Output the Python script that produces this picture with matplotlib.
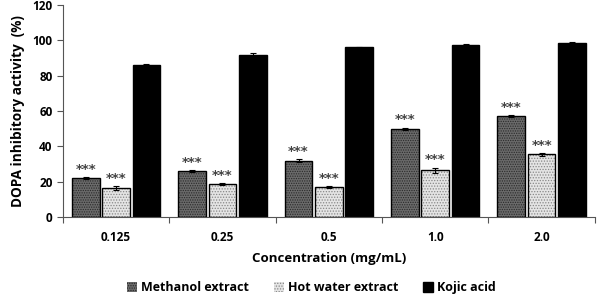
import matplotlib
matplotlib.use("Agg")
import matplotlib.pyplot as plt
import numpy as np

categories = ["0.125", "0.25", "0.5", "1.0", "2.0"]
methanol = [22, 26, 32, 50, 57]
methanol_err = [0.5, 0.4, 0.6, 0.6, 0.5]
hotwater = [16.5, 18.5, 17, 26.5, 35.5]
hotwater_err = [1.0, 0.6, 0.5, 1.5, 0.8]
kojic = [86, 92, 96, 97.5, 98.5]
kojic_err = [0.5, 0.8, 0.3, 0.3, 0.3]
series_names = ["Methanol extract", "Hot water extract", "Kojic acid"]

plt.rcParams['font.family'] = ['Open Sans', 'DejaVu Sans']
plt.rcParams['font.weight'] = 'bold'
plt.rcParams['hatch.linewidth'] = 0.6

fig = plt.figure(figsize=(5.99, 2.95), dpi=100)
ax = fig.add_axes([0.105, 0.264, 0.888, 0.719])

x = np.arange(len(categories))
w = 0.26
off = 0.285
ek = dict(ecolor='black', elinewidth=0.8, capsize=2, capthick=0.8)

b1 = ax.bar(x - off, methanol, w, color='#6a6a6a', edgecolor='#2a2a2a', hatch='.......', linewidth=0, zorder=2)
ax.bar(x - off, methanol, w, fill=False, edgecolor='black', linewidth=1.0, yerr=methanol_err, error_kw=ek, zorder=3)
b2 = ax.bar(x, hotwater, w, color='#e4e4e4', edgecolor='#888888', hatch='......', linewidth=0, zorder=2)
ax.bar(x, hotwater, w, fill=False, edgecolor='black', linewidth=1.0, yerr=hotwater_err, error_kw=ek, zorder=3)
b3 = ax.bar(x + off, kojic, w, color='black', edgecolor='black', linewidth=1.0, yerr=kojic_err, error_kw=ek, zorder=2)

for i in range(len(categories)):
    ax.text(x[i] - off, methanol[i] + methanol_err[i] + 0.8, "***", ha='center', va='bottom', fontsize=9.5,
            color='#444444', family='DejaVu Sans', fontweight='bold')
    ax.text(x[i], hotwater[i] + hotwater_err[i] + 0.8, "***", ha='center', va='bottom', fontsize=9.5,
            color='#444444', family='DejaVu Sans', fontweight='bold')

ax.set_xlim(-0.5, len(categories) - 0.5)
ax.set_ylim(0, 120)
ax.set_yticks(range(0, 121, 20))
ax.set_xticks(x)
ax.set_xticklabels(categories, fontsize=8.5, fontweight='bold')
ax.set_xticks(np.arange(-0.5, len(categories)), minor=True)
ax.tick_params(axis='x', which='major', length=0, pad=10)
ax.tick_params(axis='x', which='minor', length=4, direction='out', width=0.8, color='#555555')
ax.tick_params(axis='y', length=4, width=0.8, labelsize=8.5, color='#555555')
for lab in ax.get_yticklabels():
    lab.set_fontweight('bold')
for s in ['top', 'right']:
    ax.spines[s].set_visible(False)
for s in ['left', 'bottom']:
    ax.spines[s].set_color('#555555')
    ax.spines[s].set_linewidth(0.8)

ax.set_ylabel("DOPA inhibitory activity  (%)", fontsize=9.8, fontweight='bold', labelpad=5)
ax.set_xlabel("Concentration (mg/mL)", fontsize=9.5, fontweight='bold', labelpad=6)

leg = fig.legend([b1, b2, b3], series_names, loc='lower center', bbox_to_anchor=(0.52, -0.035),
                 ncol=3, frameon=False, handlelength=0.8, handleheight=0.8,
                 handletextpad=0.3, columnspacing=2.0, prop={'weight': 'bold', 'size': 9})

fig.savefig("out.png", dpi=100)
